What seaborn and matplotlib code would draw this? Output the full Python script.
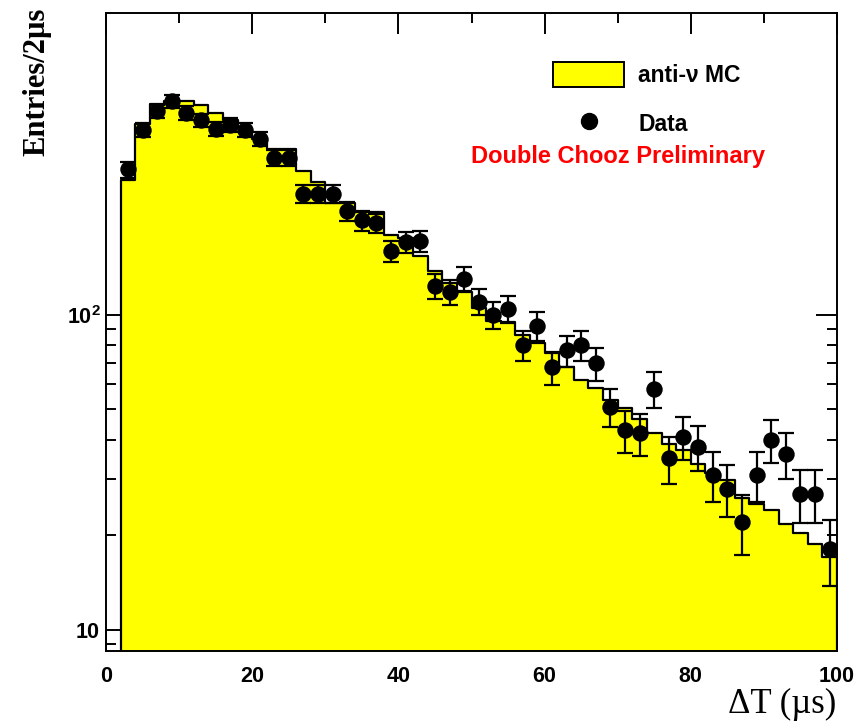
import numpy as np
import pandas as pd
import matplotlib
matplotlib.use("Agg")
import matplotlib.pyplot as plt
import seaborn as sns
from matplotlib.patches import Patch
from matplotlib.lines import Line2D
from matplotlib.ticker import FixedLocator, NullFormatter, MultipleLocator

# ---- data ----
bin_edges = list(range(2, 101, 2))            # 2 us bins from 2 to 100
bin_centers = [e + 1 for e in bin_edges[:-1]]  # 3, 5, ..., 99

mc_counts = [268, 404, 466, 477, 477, 462, 438, 415, 388, 360,
             336, 336, 286, 264, 226, 226, 211, 211, 179, 175,
             154, 138, 126, 118, 105, 95.5, 94.7, 86.3, 81.1, 75.3,
             68.2, 61.9, 58.6, 53.5, 50.7, 46.5, 42.1, 38.7, 37.1, 33.5,
             31.5, 29.8, 26.1, 25.1, 23.9, 21.7, 20.2, 18.7, 17.0]

data_counts = [289, 386, 442, 475, 437, 414, 389, 401, 385, 362,
               315, 315, 242, 242, 242, 213, 199, 195, 159, 170,
               171, 123, 118, 130, 110, 100, 104, 80, 92, 68,
               77, 80, 70, 51, 43, 42, 58, 35, 41, 38,
               31, 28, 22, 31, 40, 36, 27, 27, 18]

x_ticks = [0, 20, 40, 60, 80, 100]
y_ticks = [10, 100]
y_tick_labels = [r"$\mathbf{10}$", r"$\mathbf{10^{2}}$"]

legend_labels = ["anti-ν MC", "Data"]
title_note = "Double Chooz Preliminary"
x_label = "ΔT (µs)"
y_label = "Entries/2µs"

mc_df = pd.DataFrame({"dt": bin_centers, "mc": mc_counts})
data_df = pd.DataFrame({"dt": bin_centers, "n": data_counts})
data_df["err"] = np.sqrt(data_df["n"])

# ---- figure ----
sns.set_theme(style="white")
plt.rcParams["font.family"] = ["Liberation Sans", "DejaVu Sans"]
plt.rcParams["text.color"] = "black"
plt.rcParams["axes.labelcolor"] = "black"
plt.rcParams["xtick.color"] = "black"
plt.rcParams["ytick.color"] = "black"
plt.rcParams["mathtext.fontset"] = "custom"
plt.rcParams["mathtext.rm"] = "Liberation Sans"
plt.rcParams["mathtext.bf"] = "Liberation Sans:bold"

W, H = 866, 721
fig = plt.figure(figsize=(W / 100, H / 100), dpi=100)
ax = fig.add_axes([106 / W, 1 - 651 / H, (837 - 106) / W, (651 - 13) / H])
ax.set_yscale("log")

sns.histplot(data=mc_df, x="dt", weights="mc", bins=bin_edges,
             element="step", fill=True, color="#ffff00", alpha=1.0,
             edgecolor="black", linewidth=1.6, ax=ax, zorder=1)

ax.errorbar(data_df["dt"], data_df["n"], yerr=data_df["err"], fmt="none",
            ecolor="black", elinewidth=1.6, capsize=5.5, capthick=1.6, zorder=3)
sns.scatterplot(data=data_df, x="dt", y="n", color="black", s=140,
                marker="o", edgecolor="black", linewidth=0, ax=ax, zorder=4)

ax.set_xlim(0, 100)
ax.set_ylim(8.55, 907)
ax.set_xlabel("")
ax.set_ylabel("")

# ticks
ax.xaxis.set_major_locator(FixedLocator(x_ticks))
ax.xaxis.set_minor_locator(MultipleLocator(10))
ax.set_xticklabels([str(t) for t in x_ticks], fontweight="bold", fontsize=15.5)
ax.yaxis.set_major_locator(FixedLocator(y_ticks))
ax.set_yticklabels(y_tick_labels, fontsize=15.5)
minor_y = [v * m for m in (1, 10) for v in range(2, 10) if 8.5 < v * m < 910] + [9]
ax.yaxis.set_minor_locator(FixedLocator(sorted(set(minor_y))))
ax.yaxis.set_minor_formatter(NullFormatter())
ax.tick_params(which="both", direction="in", top=True, right=True,
               bottom=True, left=True, color="black", width=1.4)
ax.tick_params(which="major", length=15)
ax.tick_params(which="minor", length=7.5)
ax.tick_params(axis="x", which="major", pad=11, labelcolor="black")
ax.tick_params(axis="y", which="major", pad=4, labelcolor="black")

for sp in ax.spines.values():
    sp.set_visible(True)
    sp.set_color("black")
    sp.set_linewidth(1.4)
ax.grid(False)

# legend
handles = [Patch(facecolor="#ffff00", edgecolor="black", linewidth=1.4),
           Line2D([], [], linestyle="none", marker="o", color="black", markersize=11.5)]
leg = fig.legend(handles, legend_labels, loc="upper left",
                 bbox_to_anchor=(553 / W, 1 - 62 / H), frameon=False,
                 borderpad=0, borderaxespad=0, handlelength=3.1, handleheight=1.28,
                 handletextpad=0.62, labelspacing=1.05,
                 prop={"weight": "bold", "size": 16.5})
for t in leg.get_texts():
    t.set_color("black")

fig.text(618 / W, 1 - 157 / H, title_note, color="#ff0000", fontweight="bold",
         fontsize=17, ha="center", va="center")

# axis titles
fig.text(37 / W, 1 - 8 / H, y_label, rotation=90, ha="center", va="top",
         family=["Liberation Serif", "DejaVu Serif"], fontweight="bold",
         fontsize=22, color="black")
fig.text(836 / W, 1 - 704 / H, x_label, ha="right", va="center",
         family=["Liberation Serif", "DejaVu Serif"], fontsize=25, color="black")

fig.savefig("out.png", dpi=100)
